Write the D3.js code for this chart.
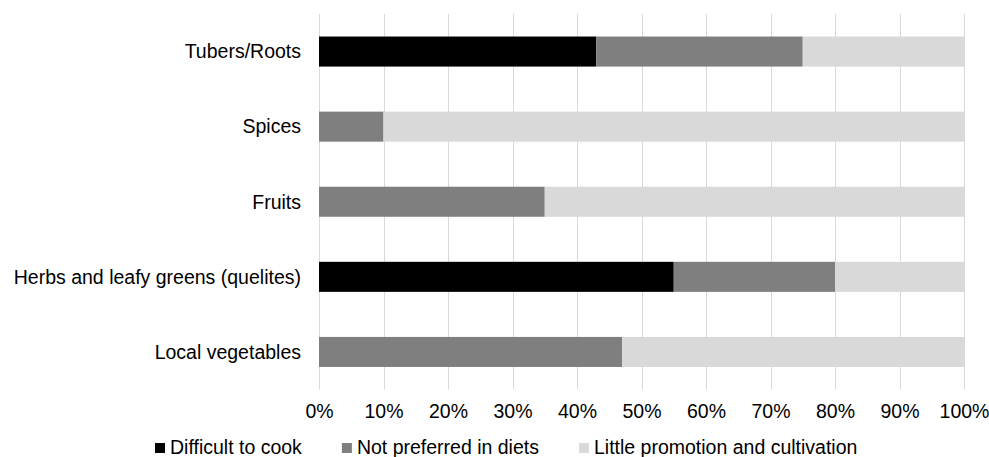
<!DOCTYPE html>
<html>
<head>
<meta charset="utf-8">
<script src="https://cdn.jsdelivr.net/npm/d3@7"></script>
<style>
  html, body { margin: 0; padding: 0; background: #fff; }
  svg { display: block; font-family: "Liberation Sans", Arial, Helvetica, sans-serif; }
</style>
</head>
<body>
<svg id="chart" width="989" height="457"></svg>
<script>
const categories = ["Tubers/Roots", "Spices", "Fruits", "Herbs and leafy greens (quelites)", "Local vegetables"];
const seriesNames = ["Difficult to cook", "Not preferred in diets", "Little promotion and cultivation"];
const difficultToCook = [43, 0, 0, 55, 0];
const notPreferred = [32, 10, 35, 25, 47];
const littlePromotion = [25, 90, 65, 20, 53];
const tickValues = [0, 10, 20, 30, 40, 50, 60, 70, 80, 90, 100];
const colors = ["#000000", "#7f7f7f", "#d9d9d9"];

const svg = d3.select("#chart");
const plotLeft = 319, plotRight = 964, plotTop = 14, plotBottom = 389.5;
const fontSize = 19.5;

const x = d3.scaleLinear().domain([0, 100]).range([plotLeft, plotRight]);
const y = d3.scaleBand().domain(categories).range([plotTop, plotBottom]).paddingInner(0.6).paddingOuter(0.3);

// gridlines
svg.append("g").selectAll("line").data(tickValues).join("line")
  .attr("x1", d => Math.round(x(d)) + 0.5).attr("x2", d => Math.round(x(d)) + 0.5)
  .attr("y1", plotTop).attr("y2", plotBottom)
  .attr("stroke", "#d9d9d9").attr("stroke-width", 1);

// stacked data
const rows = categories.map((c, i) => ({cat: c, v0: difficultToCook[i], v1: notPreferred[i], v2: littlePromotion[i]}));
const stacked = d3.stack().keys(["v0", "v1", "v2"])(rows);

svg.append("g").selectAll("g").data(stacked).join("g")
  .attr("fill", (d, i) => colors[i])
  .selectAll("rect").data(d => d).join("rect")
  .attr("x", d => x(d[0]))
  .attr("width", d => x(d[1]) - x(d[0]))
  .attr("y", d => y(d.data.cat))
  .attr("height", y.bandwidth());

// x axis labels
const xAxis = d3.axisBottom(x).tickValues(tickValues).tickFormat(d => d + "%").tickSize(0).tickPadding(0);
const gx = svg.append("g").attr("transform", `translate(0,${plotBottom})`).call(xAxis);
gx.select(".domain").remove();
gx.selectAll("text").attr("font-size", fontSize).attr("fill", "#000")
  .attr("font-family", "Liberation Sans, Arial, sans-serif")
  .attr("dy", null).attr("y", 28.5);

// y axis labels
const yAxis = d3.axisLeft(y).tickSize(0).tickPadding(18);
const gy = svg.append("g").attr("transform", `translate(${plotLeft},0)`).call(yAxis);
gy.select(".domain").remove();
gy.selectAll("text").attr("font-size", fontSize).attr("fill", "#000")
  .attr("font-family", "Liberation Sans, Arial, sans-serif")
  .attr("dy", "0.35em");

// legend
const legend = svg.append("g");
let lx = 155;
const ly = 454;
seriesNames.forEach((name, i) => {
  legend.append("rect").attr("x", lx).attr("y", ly - 11).attr("width", 10).attr("height", 10).attr("fill", colors[i]);
  const t = legend.append("text").attr("x", lx + 15).attr("y", ly)
    .attr("font-size", fontSize).attr("fill", "#000").text(name);
  const w = t.node().getComputedTextLength();
  lx = lx + 15 + w + 40;
});
</script>
</body>
</html>
